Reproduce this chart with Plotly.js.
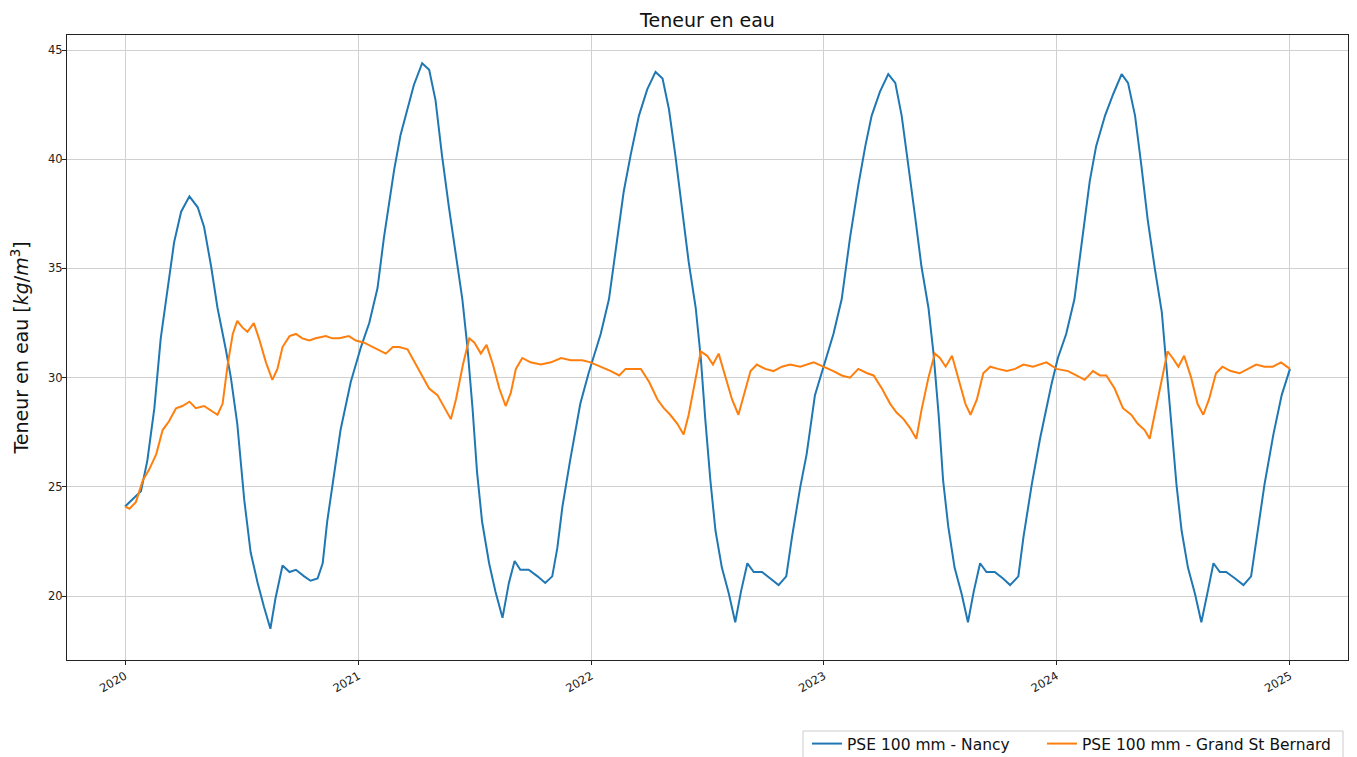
<!DOCTYPE html>
<html>
<head>
<meta charset="utf-8">
<script src="https://cdn.plot.ly/plotly-3.0.1.min.js"></script>
<style>
  html, body { margin: 0; padding: 0; background: #fff; }
  #chart { width: 1357px; height: 757px; }
</style>
</head>
<body>
<div id="chart"></div>
<script>
// ---- Data ----
const seriesNames = ["PSE 100 mm - Nancy", "PSE 100 mm - Grand St Bernard"];

const nancyDates = [
  "2020-01-01","2020-01-26","2020-02-05","2020-02-16","2020-02-26","2020-03-08","2020-03-18","2020-03-29",
  "2020-04-11","2020-04-24","2020-05-04","2020-05-15","2020-05-25","2020-06-07","2020-06-15","2020-06-25",
  "2020-07-06","2020-07-16","2020-07-27","2020-08-06","2020-08-16","2020-08-24","2020-09-04","2020-09-15",
  "2020-09-25","2020-10-08","2020-10-18","2020-10-29","2020-11-06","2020-11-13","2020-11-24","2020-12-04",
  "2020-12-20","2021-01-05","2021-01-18","2021-01-31","2021-02-10","2021-02-26","2021-03-08","2021-03-19",
  "2021-03-29","2021-04-11","2021-04-22","2021-05-02","2021-05-12","2021-05-23","2021-06-02","2021-06-13",
  "2021-06-21","2021-06-29","2021-07-06","2021-07-14","2021-07-25","2021-08-04","2021-08-15","2021-08-25",
  "2021-09-03","2021-09-12","2021-09-25","2021-10-09","2021-10-21","2021-11-01","2021-11-09","2021-11-17",
  "2021-11-29","2021-12-15","2021-12-28","2022-01-16","2022-01-29","2022-02-08","2022-02-21","2022-03-04",
  "2022-03-17","2022-03-30","2022-04-12","2022-04-23","2022-05-03","2022-05-13","2022-05-24","2022-06-03",
  "2022-06-14","2022-06-22","2022-06-29","2022-07-07","2022-07-15","2022-07-25","2022-08-05","2022-08-15",
  "2022-08-24","2022-09-03","2022-09-13","2022-09-26","2022-10-09","2022-10-22","2022-11-03","2022-11-12",
  "2022-11-25","2022-12-05","2022-12-18","2023-01-01","2023-01-16","2023-01-29","2023-02-11","2023-02-24",
  "2023-03-07","2023-03-17","2023-03-30","2023-04-12","2023-04-23","2023-05-03","2023-05-13","2023-05-24",
  "2023-06-03","2023-06-14","2023-06-22","2023-06-30","2023-07-07","2023-07-15","2023-07-25","2023-08-05",
  "2023-08-15","2023-08-24","2023-09-03","2023-09-13","2023-09-26","2023-10-09","2023-10-20","2023-11-02",
  "2023-11-10","2023-11-23","2023-12-06","2023-12-11","2023-12-24","2024-01-03","2024-01-16","2024-01-29",
  "2024-02-09","2024-02-22","2024-03-03","2024-03-17","2024-03-30","2024-04-12","2024-04-22","2024-05-03",
  "2024-05-13","2024-05-23","2024-06-03","2024-06-14","2024-06-21","2024-06-29","2024-07-07","2024-07-15",
  "2024-07-25","2024-08-05","2024-08-15","2024-08-25","2024-09-03","2024-09-13","2024-09-23","2024-10-07",
  "2024-10-20","2024-11-01","2024-11-10","2024-11-22","2024-12-06","2024-12-19","2025-01-01"
];
const nancyValues = [
  24.1,24.8,26.2,28.6,31.8,34.1,36.2,37.6,
  38.3,37.8,36.9,35.1,33.2,31.3,30.0,27.9,
  24.4,22.0,20.6,19.5,18.5,19.9,21.4,21.1,
  21.2,20.9,20.7,20.8,21.5,23.4,25.7,27.6,
  29.8,31.4,32.5,34.1,36.4,39.5,41.1,42.3,
  43.4,44.4,44.1,42.7,40.2,37.8,35.7,33.6,
  31.4,28.6,25.7,23.4,21.5,20.2,19.0,20.6,
  21.6,21.2,21.2,20.9,20.6,20.9,22.2,24.1,
  26.2,28.8,30.2,32.0,33.6,35.7,38.5,40.2,
  42.0,43.2,44.0,43.7,42.3,40.2,37.6,35.3,
  33.2,30.9,28.1,25.3,23.0,21.3,20.1,18.8,
  20.2,21.5,21.1,21.1,20.8,20.5,20.9,22.7,
  25.0,26.5,29.2,30.6,32.0,33.6,36.4,38.8,
  40.6,42.0,43.1,43.9,43.5,42.0,39.9,37.4,
  35.1,33.2,31.1,28.3,25.3,23.2,21.3,20.1,
  18.8,20.2,21.5,21.1,21.1,20.8,20.5,20.9,
  22.7,25.1,27.2,27.9,29.7,30.9,32.0,33.6,
  36.0,39.0,40.6,42.0,43.0,43.9,43.5,42.0,
  39.7,37.2,35.0,33.0,30.6,27.9,25.1,23.0,
  21.3,20.1,18.8,20.2,21.5,21.1,21.1,20.8,
  20.5,20.9,22.7,25.1,27.4,29.2,30.4
];

const gsbDates = [
  "2020-01-01","2020-01-08","2020-01-18","2020-01-29","2020-02-08","2020-02-19","2020-02-29","2020-03-10",
  "2020-03-21","2020-03-31","2020-04-11","2020-04-21","2020-05-04","2020-05-15","2020-05-25","2020-06-02",
  "2020-06-10","2020-06-18","2020-06-25","2020-07-03","2020-07-11","2020-07-21","2020-07-29","2020-08-09",
  "2020-08-19","2020-08-27","2020-09-04","2020-09-15","2020-09-25","2020-10-05","2020-10-16","2020-10-26",
  "2020-11-11","2020-11-21","2020-12-02","2020-12-17","2020-12-28","2021-01-10","2021-01-24","2021-02-06",
  "2021-02-13","2021-02-24","2021-03-06","2021-03-19","2021-03-30","2021-04-12","2021-04-22","2021-05-05",
  "2021-05-16","2021-05-26","2021-06-03","2021-06-14","2021-06-24","2021-07-02","2021-07-12","2021-07-21",
  "2021-07-31","2021-08-10","2021-08-20","2021-08-28","2021-09-05","2021-09-15","2021-09-28","2021-10-14",
  "2021-10-30","2021-11-15","2021-11-30","2021-12-18","2021-12-31","2022-01-16","2022-02-01","2022-02-14",
  "2022-02-24","2022-03-09","2022-03-20","2022-04-02","2022-04-15","2022-04-25","2022-05-05","2022-05-16",
  "2022-05-26","2022-06-03","2022-06-12","2022-06-22","2022-07-02","2022-07-11","2022-07-20","2022-07-31",
  "2022-08-10","2022-08-20","2022-08-28","2022-09-08","2022-09-18","2022-10-01","2022-10-14","2022-10-27",
  "2022-11-09","2022-11-25","2022-12-16","2023-01-01","2023-01-16","2023-01-29","2023-02-11","2023-02-24",
  "2023-03-10","2023-03-20","2023-04-02","2023-04-15","2023-04-25","2023-05-06","2023-05-16","2023-05-26",
  "2023-06-03","2023-06-14","2023-06-24","2023-07-02","2023-07-11","2023-07-21","2023-07-31","2023-08-11",
  "2023-08-19","2023-08-29","2023-09-08","2023-09-19","2023-10-01","2023-10-15","2023-10-28","2023-11-10",
  "2023-11-25","2023-12-16","2024-01-01","2024-01-19","2024-02-01","2024-02-14","2024-02-27","2024-03-09",
  "2024-03-19","2024-04-01","2024-04-14","2024-04-27","2024-05-07","2024-05-18","2024-05-26","2024-06-03",
  "2024-06-12","2024-06-23","2024-07-01","2024-07-10","2024-07-19","2024-07-30","2024-08-09","2024-08-18",
  "2024-08-27","2024-09-07","2024-09-17","2024-09-30","2024-10-14","2024-10-26","2024-11-09","2024-11-22",
  "2024-12-05","2024-12-18","2025-01-01"
];
const gsbValues = [
  24.1,24.0,24.3,25.3,25.8,26.5,27.6,28.0,
  28.6,28.7,28.9,28.6,28.7,28.5,28.3,28.8,
  30.6,32.0,32.6,32.3,32.1,32.5,31.8,30.7,
  29.9,30.4,31.4,31.9,32.0,31.8,31.7,31.8,
  31.9,31.8,31.8,31.9,31.7,31.6,31.4,31.2,
  31.1,31.4,31.4,31.3,30.7,30.0,29.5,29.2,
  28.6,28.1,29.0,30.6,31.8,31.6,31.1,31.5,
  30.6,29.5,28.7,29.3,30.4,30.9,30.7,30.6,
  30.7,30.9,30.8,30.8,30.7,30.5,30.3,30.1,
  30.4,30.4,30.4,29.8,29.0,28.6,28.3,27.9,
  27.4,28.3,29.7,31.2,31.0,30.6,31.1,30.0,
  29.0,28.3,29.2,30.3,30.6,30.4,30.3,30.5,
  30.6,30.5,30.7,30.5,30.3,30.1,30.0,30.4,
  30.2,30.1,29.5,28.8,28.4,28.1,27.7,27.2,
  28.5,30.0,31.1,30.9,30.5,31.0,29.9,28.8,
  28.3,29.0,30.2,30.5,30.4,30.3,30.4,30.6,
  30.5,30.7,30.4,30.3,30.1,29.9,30.3,30.1,
  30.1,29.5,28.6,28.3,27.9,27.6,27.2,28.3,
  29.7,31.2,30.9,30.5,31.0,30.0,28.8,28.3,
  29.0,30.2,30.5,30.3,30.2,30.4,30.6,30.5,
  30.5,30.7,30.4
];

const tickYears = ["2020-01-01","2021-01-01","2022-01-01","2023-01-01","2024-01-01","2025-01-01"];
const tickYearLabels = ["2020","2021","2022","2023","2024","2025"];
const yTicks = [20, 25, 30, 35, 40, 45];

const chartTitle = "Teneur en eau";
const yTitle = "Teneur en eau [<i>kg</i>/<i>m</i><sup>3</sup>]";

// ---- Chart ----
const FONT = "DejaVu Sans, sans-serif";
const W = 1357, H = 757;
const M = { l: 67, r: 9, t: 35, b: 97 };
const PW = W - M.l - M.r, PH = H - M.t - M.b;
// pixel -> paper helpers for the legend frame
const px2x = p => (p - M.l) / PW;
const px2y = p => (H - M.b - p) / PH;

const traces = [
  {
    type: "scatter", mode: "lines", name: seriesNames[0],
    x: nancyDates, y: nancyValues,
    line: { color: "#1f77b4", width: 2 },
    legend: "legend"
  },
  {
    type: "scatter", mode: "lines", name: seriesNames[1],
    x: gsbDates, y: gsbValues,
    line: { color: "#ff7f0e", width: 2 },
    legend: "legend2"
  }
];

const legendCommon = {
  orientation: "h",
  xref: "container", yref: "container",
  xanchor: "left", yanchor: "top",
  y: (H - 727) / H,
  borderwidth: 0, bgcolor: "rgba(0,0,0,0)",
  font: { family: FONT, size: 15.5, color: "#111" }
};

const layout = {
  width: W, height: H,
  paper_bgcolor: "#ffffff", plot_bgcolor: "#ffffff",
  margin: { l: M.l, r: M.r, t: M.t, b: M.b, pad: 0, autoexpand: false },
  font: { family: FONT, color: "#222", size: 11 },
  title: {
    text: chartTitle,
    font: { family: FONT, size: 19, color: "#111" },
    x: 0.5, xanchor: "center", xref: "paper",
    y: 1 - 20 / H, yanchor: "middle", yref: "container"
  },
  showlegend: true,
  legend: Object.assign({}, legendCommon, { x: 807 / W }),
  legend2: Object.assign({}, legendCommon, { x: 1042 / W }),
  shapes: [
    {
      type: "rect", xref: "paper", yref: "paper",
      x0: px2x(803), x1: px2x(1343), y0: px2y(731), y1: px2y(775),
      line: { color: "#cccccc", width: 1 }, fillcolor: "rgba(255,255,255,0)",
      layer: "below"
    }
  ],
  xaxis: {
    type: "date",
    automargin: false,
    range: ["2019-10-02", "2025-04-02"],
    tickvals: tickYears, ticktext: tickYearLabels,
    tickangle: -30,
    ticks: "outside", ticklen: 4, tickwidth: 1, tickcolor: "#222",
    showline: true, linecolor: "#222", linewidth: 1, mirror: true,
    showgrid: true, gridcolor: "#d0d0d0", gridwidth: 1,
    zeroline: false,
    tickfont: { family: FONT, size: 11.5, color: "#222" }
  },
  yaxis: {
    automargin: false,
    range: [17.07, 45.69],
    tickvals: yTicks,
    ticks: "outside", ticklen: 4, tickwidth: 1, tickcolor: "#222",
    ticklabelstandoff: -3,
    showline: true, linecolor: "#222", linewidth: 1, mirror: true,
    showgrid: true, gridcolor: "#d0d0d0", gridwidth: 1,
    zeroline: false,
    tickfont: { family: FONT, size: 11.5, color: "#222" },
    title: { text: yTitle, font: { family: FONT, size: 19, color: "#111" }, standoff: 14 }
  }
};

Plotly.newPlot("chart", traces, layout, { displayModeBar: false, staticPlot: true });
</script>
</body>
</html>
